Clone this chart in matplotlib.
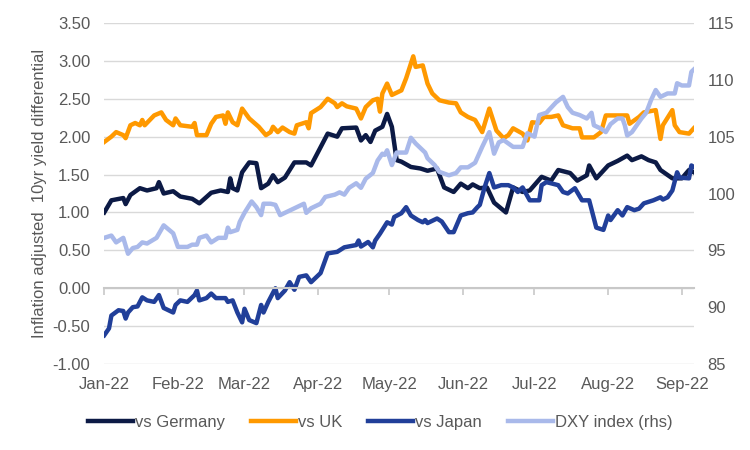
import pandas as pd
import matplotlib
matplotlib.use('Agg')
import matplotlib.pyplot as plt
import matplotlib.dates as mdates

plt.rcParams['font.family'] = ['Liberation Sans', 'DejaVu Sans']

# days since 3 Jan 2022 + values
de_day = [0, 3, 8, 9, 11, 15, 18, 22, 23, 25, 29, 32, 37, 40, 45, 49, 52, 53, 54, 56, 58, 61, 64, 66,
          69, 71, 73, 76, 78, 80, 85, 87, 91, 94, 98, 100, 106, 108, 110, 112, 114, 117, 119, 121,
          123, 125, 129, 133, 136, 140, 143, 147, 150, 153, 155, 158, 161, 164, 169, 172, 176, 179,
          184, 188, 191, 196, 199, 203, 204, 207, 212, 216, 220, 222, 226, 229, 232, 234, 239, 243,
          246, 248]
de_val = [1.00, 1.16, 1.19, 1.11, 1.23, 1.32, 1.29, 1.32, 1.40, 1.25, 1.28, 1.21, 1.18, 1.12, 1.26,
          1.29, 1.27, 1.45, 1.32, 1.29, 1.53, 1.66, 1.65, 1.32, 1.38, 1.49, 1.40, 1.46, 1.56, 1.66,
          1.66, 1.62, 1.86, 2.04, 2.00, 2.11, 2.12, 1.95, 2.02, 1.93, 2.08, 2.13, 2.30, 2.13, 1.69,
          1.67, 1.60, 1.58, 1.55, 1.58, 1.33, 1.27, 1.38, 1.32, 1.37, 1.32, 1.33, 1.13, 1.00, 1.33,
          1.27, 1.29, 1.47, 1.42, 1.56, 1.52, 1.42, 1.49, 1.62, 1.45, 1.62, 1.68, 1.75, 1.69, 1.74,
          1.69, 1.66, 1.56, 1.45, 1.45, 1.56, 1.53]

uk_day = [0, 3, 5, 8, 9, 11, 13, 15, 16, 17, 21, 24, 26, 29, 30, 32, 37, 38, 39, 43, 45, 47, 50, 51,
          52, 54, 56, 58, 61, 65, 68, 70, 71, 73, 75, 78, 80, 81, 85, 86, 87, 91, 94, 97, 98, 100,
          102, 106, 108, 110, 113, 115, 116, 117, 119, 121, 125, 127, 130, 131, 134, 136, 138, 141,
          145, 148, 150, 153, 156, 159, 162, 165, 168, 170, 172, 176, 178, 180, 183, 185, 188, 191,
          193, 197, 200, 201, 206, 209, 211, 214, 220, 221, 225, 227, 232, 234, 235, 239, 240, 242,
          246, 248]
uk_val = [1.93, 2.00, 2.06, 2.02, 1.98, 2.15, 2.18, 2.15, 2.22, 2.15, 2.28, 2.32, 2.22, 2.15, 2.24,
          2.15, 2.13, 2.18, 2.02, 2.02, 2.17, 2.26, 2.28, 2.17, 2.32, 2.19, 2.15, 2.37, 2.24, 2.13,
          2.02, 2.06, 2.13, 2.06, 2.12, 2.06, 2.04, 2.15, 2.19, 2.11, 2.31, 2.39, 2.50, 2.44, 2.39,
          2.44, 2.40, 2.37, 2.24, 2.39, 2.48, 2.50, 2.33, 2.57, 2.70, 2.55, 2.61, 2.77, 3.06, 2.92,
          2.94, 2.70, 2.57, 2.48, 2.45, 2.44, 2.32, 2.26, 2.22, 2.06, 2.37, 2.08, 1.98, 2.02, 2.11,
          2.04, 1.95, 2.19, 2.18, 2.26, 2.26, 2.28, 2.15, 2.11, 2.11, 1.99, 1.99, 2.06, 2.28, 2.28,
          2.28, 2.17, 2.26, 2.32, 2.35, 1.97, 2.15, 2.35, 2.15, 2.06, 2.04, 2.11]

jp_day = [0, 2, 3, 6, 8, 9, 10, 12, 14, 16, 18, 21, 23, 25, 29, 30, 32, 35, 38, 39, 40, 43, 45, 47,
          51, 52, 54, 56, 58, 59, 61, 64, 66, 67, 69, 72, 73, 76, 78, 80, 82, 85, 87, 91, 94, 98,
          101, 106, 107, 108, 111, 113, 114, 116, 119, 121, 122, 125, 127, 129, 132, 134, 135, 136,
          140, 142, 145, 147, 150, 153, 155, 157, 158, 160, 162, 164, 167, 170, 172, 174, 176, 179,
          183, 184, 186, 191, 193, 195, 198, 201, 204, 207, 210, 212, 213, 216, 218, 220, 223, 225,
          227, 231, 234, 235, 237, 239, 241, 242, 246, 247, 248]
jp_val = [-0.62, -0.53, -0.36, -0.29, -0.30, -0.40, -0.32, -0.25, -0.24, -0.12, -0.16, -0.18, -0.09,
          -0.26, -0.32, -0.22, -0.16, -0.18, -0.09, -0.03, -0.16, -0.13, -0.07, -0.13, -0.13, -0.18,
          -0.16, -0.32, -0.45, -0.27, -0.42, -0.46, -0.22, -0.32, -0.18, 0.00, -0.13, -0.03, 0.08,
          -0.02, 0.15, 0.17, 0.08, 0.20, 0.46, 0.48, 0.54, 0.57, 0.63, 0.55, 0.61, 0.54, 0.63, 0.72,
          0.87, 0.84, 0.94, 0.99, 1.07, 0.96, 0.90, 0.87, 0.90, 0.86, 0.92, 0.88, 0.74, 0.74, 0.96,
          0.99, 1.00, 1.07, 1.10, 1.33, 1.52, 1.33, 1.36, 1.36, 1.33, 1.27, 1.33, 1.16, 1.16, 1.36,
          1.40, 1.36, 1.27, 1.25, 1.32, 1.16, 1.16, 0.80, 0.77, 0.96, 0.90, 1.03, 0.96, 1.07, 1.03,
          1.05, 1.12, 1.16, 1.20, 1.17, 1.20, 1.29, 1.53, 1.46, 1.45, 1.62, 1.60]

dxy_day = [0, 3, 5, 8, 10, 12, 14, 16, 18, 22, 25, 29, 31, 35, 37, 39, 40, 43, 45, 48, 51, 52, 53,
           56, 57, 59, 62, 64, 66, 67, 70, 72, 74, 76, 80, 84, 85, 87, 91, 93, 97, 99, 101, 103, 106,
           108, 110, 113, 115, 117, 118, 119, 121, 123, 127, 129, 131, 133, 135, 136, 139, 141, 145,
           148, 150, 153, 156, 159, 162, 164, 166, 168, 172, 176, 178, 181, 183, 186, 190, 193, 195,
           197, 200, 203, 205, 206, 209, 211, 213, 216, 218, 219, 220, 222, 226, 228, 230, 232, 234,
           237, 240, 241, 243, 246, 247, 248]
dxy_val = [96.1, 96.3, 95.7, 96.1, 94.7, 95.2, 95.3, 95.7, 95.6, 96.1, 97.2, 96.5, 95.3, 95.3, 95.5,
           95.5, 96.1, 96.3, 95.7, 96.1, 96.1, 97.0, 96.6, 96.8, 97.5, 98.3, 99.3, 98.8, 98.1, 99.1,
           99.1, 99.0, 98.1, 98.3, 98.7, 99.1, 98.3, 98.7, 99.1, 99.7, 99.9, 100.1, 99.9, 100.5,
           100.9, 100.5, 101.3, 101.8, 102.9, 103.5, 103.4, 103.8, 102.5, 103.6, 103.6, 104.9, 104.4,
           104.0, 103.6, 103.1, 102.5, 101.9, 101.6, 101.8, 102.3, 102.3, 102.7, 104.1, 105.4, 103.5,
           104.5, 104.7, 104.1, 104.1, 105.3, 105.0, 106.9, 107.1, 108.0, 108.5, 107.6, 107.1, 106.9,
           106.6, 107.1, 106.0, 105.7, 105.4, 106.1, 106.6, 106.6, 106.0, 105.1, 105.4, 106.6, 107.1,
           108.2, 109.1, 108.5, 108.8, 108.8, 109.7, 109.5, 109.5, 110.7, 110.9]

start = pd.Timestamp('2022-01-03')


def to_dates(days):
    return start + pd.to_timedelta(days, unit='D')


grey = '#595959'
fs = 12
fig = plt.figure(figsize=(7.5, 4.5), dpi=100)
ax = fig.add_axes([0.139, 0.191, 0.786, 0.758])
ax2 = ax.twinx()

l1, = ax.plot(to_dates(de_day), de_val, color='#0c1a45', lw=3.2, label='vs Germany')
l2, = ax.plot(to_dates(uk_day), uk_val, color='#ff9900', lw=3.2, label='vs UK')
l3, = ax.plot(to_dates(jp_day), jp_val, color='#213f99', lw=3.2, label='vs Japan')
l4, = ax2.plot(to_dates(dxy_day), dxy_val, color='#a9b9ea', lw=3.2, label='DXY index (rhs)')

ax.set_ylim(-1.0, 3.5)
ax.set_yticks([-1.0 + 0.5 * i for i in range(10)])
ax.yaxis.set_major_formatter(matplotlib.ticker.FormatStrFormatter('%.2f'))
ax2.set_ylim(85, 115)
ax2.set_yticks(range(85, 116, 5))
ax.set_xlim(to_dates([0])[0], to_dates([dxy_day[-1]])[0])

ax.grid(axis='y', color='#d9d9d9', lw=1)
ax.set_axisbelow(True)
for a in (ax, ax2):
    for s in a.spines.values():
        s.set_visible(False)
ax.spines['bottom'].set_visible(True)
ax.spines['bottom'].set_position(('data', 0))
ax.spines['bottom'].set_color('#c8c8c8')
ax.spines['bottom'].set_linewidth(1.5)

ax.tick_params(axis='y', length=0, pad=10, labelsize=fs, labelcolor=grey)
ax2.tick_params(axis='y', length=0, pad=10, labelsize=fs, labelcolor=grey)

ax.xaxis.set_major_locator(mdates.MonthLocator(bymonthday=3))
ax.tick_params(axis='x', direction='out', length=5, width=1.2, color='#c8c8c8', labelbottom=False)

sec = ax.secondary_xaxis('bottom')
sec.xaxis.set_major_locator(mdates.MonthLocator(bymonthday=3))
sec.xaxis.set_major_formatter(mdates.DateFormatter('%b-%y'))
sec.tick_params(length=0, pad=9, labelsize=fs, labelcolor=grey)
sec.spines['bottom'].set_visible(False)

ax.set_ylabel('Inflation adjusted  10yr yield differential', color=grey, fontsize=fs, labelpad=4)

fig.legend(handles=[l1, l2, l3, l4], loc='center', bbox_to_anchor=(0.507, 0.062), ncol=4,
           frameon=False, fontsize=fs, handlelength=2.7, handletextpad=0.12, columnspacing=1.55,
           labelcolor=grey)

fig.savefig('out.png', dpi=100)
